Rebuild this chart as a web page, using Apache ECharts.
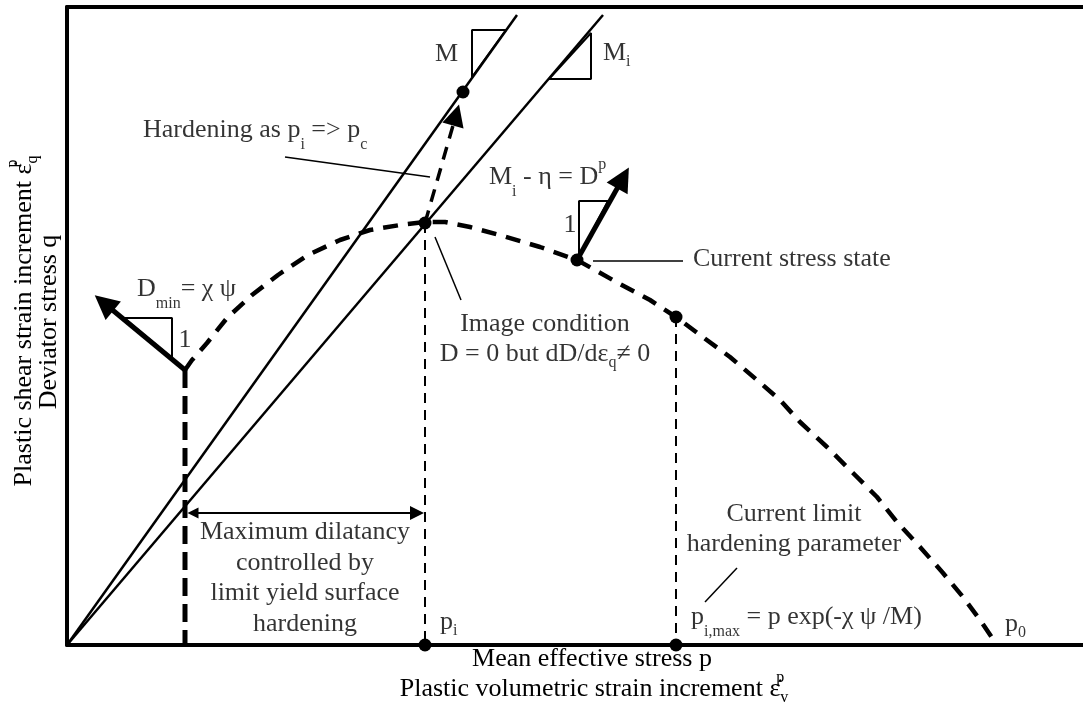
<!DOCTYPE html>
<html><head><meta charset="utf-8">
<script src="https://cdn.jsdelivr.net/npm/echarts@6/dist/echarts.min.js"></script>
<style>html,body{margin:0;padding:0;background:#fff}#c{width:1083px;height:706px}</style>
</head><body><div id="c"></div>
<script>
// ---- data (schematic units: p to the right, q upward) ----
const xRange = [0, 1016];
const yRange = [0, 638];
const lineM = [[0, 0], [450, 630]];
const lineMi = [[0, 0], [536, 630]];
const yieldSurface = [[118,275],[125,285],[140,302],[160,327],[185,350],[211,370],[241,390],[273,405],[303,415],[333,420],[358,423],[378,423],[403,418],[436,409],[473,398],[510,385],[553,361],[583,345],[609,328],[633,310],[663,288],[690,265],[713,245],[733,223],[760,198],[786,172],[810,148],[830,123],[853,98],[876,72],[896,48],[913,25],[930,0]];
const limitDropLine = [[118, 275], [118, 0]];
const imageDropLine = [[358, 422], [358, 0]];
const pimaxDropLine = [[609, 328], [609, 0]];
const keyPoints = [[358, 422], [396, 553], [510, 385], [609, 328], [358, 0], [609, 0]];
const slopeTriM = [[405, 568], [405, 615], [439, 615]];
const slopeTriMi = [[482, 566], [524, 566], [524, 612]];
const slopeTriDp = [[512, 389], [512, 444], [541, 444]];
const slopeTriDmin = [[57, 327], [105, 327], [105, 287]];
const arrowDp = [[510, 385], [556, 467]];
const arrowDmin = [[118, 275], [37, 342]];
const arrowHardening = [[358, 422], [389, 530]];
const dilatancySpan = [[126, 132], [350, 132]];
const leaderHardening = [[218, 488], [363, 468]];
const leaderImage = [[368, 408], [394, 345]];
const leaderStress = [[526, 384], [616, 384]];
const leaderLimit = [[670, 77], [638, 43]];
const annotations = [
  {at: [76, 515], align: 'left', text: '{t|Hardening as p}{sa|i}{t| => p}{sa|c}'},
  {at: [391, 591], align: 'right', text: '{t|M}'},
  {at: [536, 592], align: 'left', text: '{t|M}{sb|i}'},
  {at: [422, 468], align: 'left', text: '{t|M}{sa|i}{t| - η = D}{sp|p}'},
  {at: [503, 420], align: 'center', text: '{t|1}'},
  {at: [626, 386], align: 'left', text: '{t|Current stress state}'},
  {at: [70, 356], align: 'left', text: '{t|D}{sa|min}{t|= χ ψ}'},
  {at: [118, 305], align: 'center', text: '{t|1}'},
  {at: [478, 321], align: 'center', text: '{t|Image condition}'},
  {at: [478, 291], align: 'center', text: '{t|D = 0 but dD/dε}{sb|q}{t|≠ 0}'},
  {at: [238, 113], align: 'center', text: '{t|Maximum dilatancy}'},
  {at: [238, 82], align: 'center', text: '{t|controlled by}'},
  {at: [238, 52], align: 'center', text: '{t|limit yield surface}'},
  {at: [238, 21], align: 'center', text: '{t|hardening}'},
  {at: [373, 23], align: 'left', text: '{t|p}{sb|i}'},
  {at: [624, 28], align: 'left', text: '{t|p}{sa|i,max}{t| = p exp(-χ ψ /M)}'},
  {at: [727, 131], align: 'center', text: '{t|Current limit}'},
  {at: [727, 101], align: 'center', text: '{t|hardening parameter}'},
  {at: [938, 21], align: 'left', text: '{t|p}{sb|0}'}
];
const xTitle = ['{t|Mean effective stress p}', '{t|Plastic volumetric strain increment ε̇}{sp0|p}{sb|v}'];
const yTitle = ['{t|Plastic shear strain increment ε̇}{sp0|p}{sb|q}', '{t|Deviator stress q}'];

// ---- styles ----
const FONT = "'Liberation Serif', 'Times New Roman', serif";
const rich = {
  t: {fontSize: 26, fontFamily: FONT, color: '#000'},
  sa: {fontSize: 16, fontFamily: FONT, color: '#000', padding: [30, 0, 0, 0]},
  sb: {fontSize: 16, fontFamily: FONT, color: '#000', padding: [18, 0, 0, 0]},
  sp: {fontSize: 16, fontFamily: FONT, color: '#000', padding: [0, 0, 24, 0]},
  sp0: {fontSize: 16, fontFamily: FONT, color: '#000', padding: [0, 0, 22, 0], width: 0}
};
function line(data, width, type, z) {
  return {type: 'line', data: data, symbol: 'none', silent: true, z: z || 2,
    lineStyle: {color: '#000', width: width, type: type || 'solid', cap: 'butt', opacity: 1}};
}
function arrow(data, width, type, both, size) {
  return {type: 'lines', coordinateSystem: 'cartesian2d', silent: true, z: 3,
    symbol: both ? ['triangle', 'triangle'] : ['none', 'triangle'], symbolSize: size,
    lineStyle: {color: '#000', width: width, type: type || 'solid', opacity: 1},
    data: [{coords: data}]};
}
const closeTri = t => t.concat([t[0]]);

const series = [
  line(lineM, 2.5), line(lineMi, 2.5),
  line(yieldSurface, 4.5, [15, 10]),
  line(limitDropLine, 5, [18, 8]),
  line(imageDropLine, 2, [10, 7]),
  line(pimaxDropLine, 2, [10, 7]),
  line(closeTri(slopeTriM), 2), line(closeTri(slopeTriMi), 2),
  line(closeTri(slopeTriDp), 2), line(closeTri(slopeTriDmin), 2),
  line(leaderHardening, 1.5), line(leaderImage, 1.5), line(leaderStress, 1.5), line(leaderLimit, 1.5),
  arrow(arrowDp, 5, 'solid', false, [20, 24]),
  arrow(arrowDmin, 5, 'solid', false, [20, 24]),
  arrow(arrowHardening, 3.5, [13, 9], false, [16, 22]),
  arrow(dilatancySpan, 2, 'solid', true, [11, 14])
].concat([
  {type: 'scatter', data: keyPoints, symbolSize: 13, itemStyle: {color: '#000', opacity: 1}, z: 5, silent: true},
  {type: 'scatter', silent: true, z: 6, symbolSize: 1, itemStyle: {color: 'rgba(0,0,0,0)'},
    data: annotations.map(a => ({value: a.at, label: {show: true, position: 'inside', align: a.align,
      verticalAlign: 'middle', formatter: a.text, rich: rich, color: '#000'}}))}
]);

const chart = echarts.init(document.getElementById('c'), null, {renderer: 'canvas'});
chart.setOption({
  animation: false,
  backgroundColor: '#fff',
  grid: {left: 67, right: 0, top: 7, bottom: 61},
  xAxis: [
    {type: 'value', min: xRange[0], max: xRange[1], position: 'bottom',
      axisLine: {show: true, onZero: false, lineStyle: {color: '#000', width: 4}},
      axisTick: {show: false}, axisLabel: {show: false}, splitLine: {show: false}},
    {type: 'value', min: xRange[0], max: xRange[1], position: 'top',
      axisLine: {show: true, onZero: false, lineStyle: {color: '#000', width: 4}},
      axisTick: {show: false}, axisLabel: {show: false}, splitLine: {show: false}}
  ],
  yAxis: {type: 'value', min: yRange[0], max: yRange[1],
    axisLine: {show: true, onZero: false, lineStyle: {color: '#000', width: 4}},
    axisTick: {show: false}, axisLabel: {show: false}, splitLine: {show: false}},
  graphic: [
    {type: 'text', x: 592, y: 659, silent: true, style: {text: xTitle[0], rich: rich, fill: '#000', align: 'center', verticalAlign: 'middle'}},
    {type: 'text', x: 594, y: 689, silent: true, style: {text: xTitle[1], rich: rich, fill: '#000', align: 'center', verticalAlign: 'middle'}},
    {type: 'text', x: 24, y: 321, rotation: Math.PI / 2, silent: true, style: {text: yTitle[0], rich: rich, fill: '#000', align: 'center', verticalAlign: 'middle'}},
    {type: 'text', x: 49, y: 322, rotation: Math.PI / 2, silent: true, style: {text: yTitle[1], rich: rich, fill: '#000', align: 'center', verticalAlign: 'middle'}}
  ],
  series: series
});
</script>
</body></html>
